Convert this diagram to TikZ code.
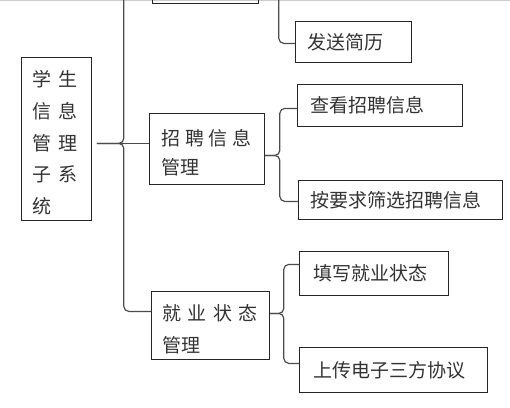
\documentclass[tikz,border=0pt]{standalone}
\usepackage{fontspec}
\newfontfamily\cjk{Noto Sans CJK SC}
\newcommand{\firstln}{\rule{0pt}{24pt}}

\begin{document}
\begin{tikzpicture}[x=1pt,y=-1pt,
    box/.style={draw=black!85,line width=0.8pt,anchor=north west,inner xsep=12pt,inner ysep=0pt,align=left,text=black!80,font=\cjk\fontsize{19}{31}\selectfont},
    conn/.style={draw=black!70,line width=1.2pt,rounded corners=5pt}]
            \useasboundingbox (0,0) rectangle (510,407);
            \draw[black!20,line width=1pt] (0,0.5) -- (510,0.5);

            \node (xs) at (21,57) [box,inner xsep=11.5pt,text width=47pt,minimum height=163pt,font=\cjk\fontsize{19}{31.75}\selectfont] {\firstln 学\hspace{7pt}生\\信\hspace{7pt}息\\管\hspace{7pt}理\\子\hspace{7pt}系\\统};
            \node (top) at (152,-40) [box,minimum width=106pt,minimum height=43pt] {};
            \node (fs) at (295,21) [box,text width=92pt,minimum height=41pt] {发送简历};
            \node (zp) at (149,113) [box,text width=91pt,minimum height=71pt,font=\cjk\fontsize{19}{29}\selectfont] {\firstln 招\hspace{4.8pt}聘\hspace{4.8pt}信\hspace{4.8pt}息\\管理};
            \node (ck) at (297,84) [box,inner xsep=13pt,text width=139pt,minimum height=42pt] {查看招聘信息};
            \node (sx) at (298,180) [box,text width=180pt,minimum height=39pt] {按要求筛选招聘信息};
            \node (jy) at (151,291) [box,inner xsep=11pt,text width=96pt,minimum height=68pt,font=\cjk\fontsize{19}{32}\selectfont] {\firstln 就\hspace{6.5pt}业\hspace{6.5pt}状\hspace{6.5pt}态\\管理};
            \node (tx) at (299,251) [box,inner xsep=14pt,text width=121pt,minimum height=44pt] {填写就业状态};
            \node (sc) at (299,347) [box,inner xsep=14pt,text width=160pt,minimum height=45pt] {上传电子三方协议};

            \draw[conn,shorten <=5pt] ([yshift=-4.5pt]xs.east) -- ++(32,0) |- (top.west);
            \draw[conn,shorten <=5pt] ([yshift=-4.5pt]xs.east) -- ++(32,0) |- ([yshift=14pt]jy.west);
            \draw[conn,shorten <=5pt] ([yshift=-4.5pt]xs.east) -- ([yshift=5.5pt]zp.west);

            \draw[conn] (top.east) -- ++(20,0) |- ([yshift=-1.5pt]fs.west);
            \draw[conn] ([yshift=-6.5pt]zp.east) -- ++(15,0) |- ([yshift=-3pt]ck.west);
            \draw[conn] ([yshift=-6.5pt]zp.east) -- ++(15,0) |- ([yshift=-1.5pt]sx.west);
            \draw[conn] ([yshift=12pt]jy.east) -- ++(14,0) |- ([yshift=9pt]tx.west);
            \draw[conn] ([yshift=12pt]jy.east) -- ++(14,0) |- ([yshift=6.5pt]sc.west);

        \end{tikzpicture}
\end{document}
